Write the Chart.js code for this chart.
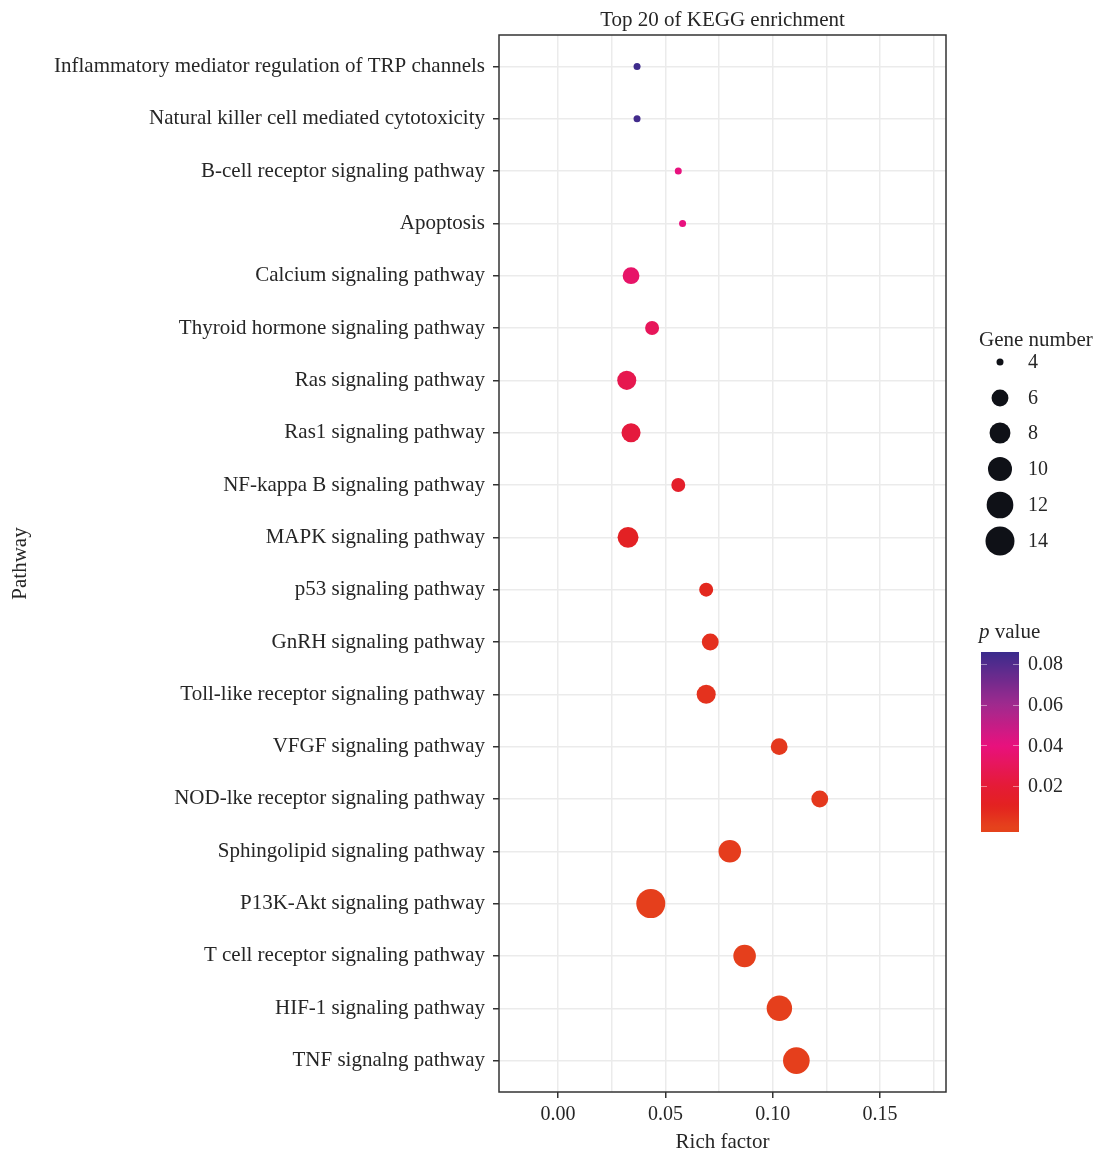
<!DOCTYPE html>
<html>
<head>
<meta charset="utf-8">
<script src="https://cdn.jsdelivr.net/npm/chart.js@4.4.0/dist/chart.umd.min.js"></script>
<style>
html,body{margin:0;padding:0;background:#fff;}
#c{display:block;}
</style>
</head>
<body>
<canvas id="c" width="1101" height="1151"></canvas>
<script>
// ---------------- DATA ----------------
const pathways = [
  "Inflammatory mediator regulation of TRP channels",
  "Natural killer cell mediated cytotoxicity",
  "B-cell receptor signaling pathway",
  "Apoptosis",
  "Calcium signaling pathway",
  "Thyroid hormone signaling pathway",
  "Ras signaling pathway",
  "Ras1 signaling pathway",
  "NF-kappa B signaling pathway",
  "MAPK signaling pathway",
  "p53 signaling pathway",
  "GnRH signaling pathway",
  "Toll-like receptor signaling pathway",
  "VFGF signaling pathway",
  "NOD-lke receptor signaling pathway",
  "Sphingolipid signaling pathway",
  "P13K-Akt signaling pathway",
  "T cell receptor signaling pathway",
  "HIF-1 signaling pathway",
  "TNF signalng pathway"
];
const richFactor = [0.0368, 0.0368, 0.0560, 0.0580, 0.0340, 0.0438, 0.0320, 0.0340, 0.0560, 0.0326,
                    0.0690, 0.0709, 0.0690, 0.1030, 0.1219, 0.0800, 0.0432, 0.0869, 0.1031, 0.1110];
const geneNumber = [4, 4, 4, 4, 6, 5, 7, 7, 5, 8, 5, 6, 7, 6, 6, 9, 14, 9, 11, 12];
const pValue = [0.085, 0.084, 0.040, 0.040, 0.034, 0.030, 0.027, 0.022, 0.015, 0.012,
                0.008, 0.006, 0.005, 0.003, 0.003, 0.002, 0.001, 0.001, 0.001, 0.001];

const xGridValues = [0, 0.025, 0.05, 0.075, 0.1, 0.125, 0.15, 0.175];
const xMajorValues = [0, 0.05, 0.1, 0.15];
const xTickLabels = ["0.00", "0.05", "0.10", "0.15"];

const sizeLegendValues = [4, 6, 8, 10, 12, 14];
const colorLegendValues = [0.08, 0.06, 0.04, 0.02];
const colorLegendLabels = ["0.08", "0.06", "0.04", "0.02"];

// ---------------- STYLE HELPERS ----------------
const FONT = "'Liberation Serif', 'DejaVu Serif', serif";
const FS = 21;      // labels / titles
const FSN = 20;     // numbers
const TXT = '#262626';
const gMin = 4, gMax = 14;
function radiusOf(g) {
  const t = Math.max(0, (g - gMin) / (gMax - gMin));
  return 3.5 + 11 * Math.sqrt(t);
}
const colorStops = [
  [0.000, [229, 66, 28]],
  [0.010, [227, 34, 31]],
  [0.020, [229, 27, 54]],
  [0.040, [232, 17, 126]],
  [0.060, [160, 42, 142]],
  [0.086, [58, 43, 140]]
];
function colorOf(p) {
  if (p <= colorStops[0][0]) return 'rgb(' + colorStops[0][1].join(',') + ')';
  for (let i = 1; i < colorStops.length; i++) {
    if (p <= colorStops[i][0]) {
      const [p0, c0] = colorStops[i - 1], [p1, c1] = colorStops[i];
      const t = (p - p0) / (p1 - p0);
      const c = c0.map((v, k) => Math.round(v + (c1[k] - v) * t));
      return 'rgb(' + c.join(',') + ')';
    }
  }
  return 'rgb(' + colorStops[colorStops.length - 1][1].join(',') + ')';
}

const points = pathways.map((name, i) => ({ x: richFactor[i], y: i + 1, r: radiusOf(geneNumber[i]) }));

// ---------------- PLUGINS ----------------
const framePlugin = {
  id: 'frame',
  afterDraw(chart) {
    const { ctx, chartArea: a } = chart;
    ctx.save();
    ctx.strokeStyle = '#333';
    ctx.lineWidth = 1.5;
    ctx.strokeRect(a.left, a.top, a.right - a.left, a.bottom - a.top);
    ctx.restore();
  }
};

const legendPlugin = {
  id: 'customLegends',
  afterDraw(chart) {
    const ctx = chart.ctx;
    ctx.save();
    ctx.fillStyle = TXT;
    ctx.textBaseline = 'middle';
    ctx.textAlign = 'left';
    // size legend
    ctx.font = FS + 'px ' + FONT;
    ctx.fillText('Gene number', 979, 340);
    ctx.font = FSN + 'px ' + FONT;
    const ys = [362, 398, 433, 469, 505, 541];
    sizeLegendValues.forEach((g, i) => {
      ctx.beginPath();
      ctx.fillStyle = '#0f1117';
      ctx.arc(1000, ys[i], radiusOf(g), 0, Math.PI * 2);
      ctx.fill();
      ctx.fillStyle = TXT;
      ctx.fillText(String(g), 1028, ys[i] + 1);
    });
    // color legend
    ctx.font = 'italic ' + FS + 'px ' + FONT;
    ctx.fillText('p', 979, 632);
    const pw = ctx.measureText('p').width;
    ctx.font = FS + 'px ' + FONT;
    ctx.fillText(' value', 979 + pw, 632);
    ctx.font = FSN + 'px ' + FONT;
    const bx = 981, bw = 38, by = 652, bh = 180;
    const pTop = 0.0859, pBot = -0.0026;
    const yOf = p => by + (pTop - p) / (pTop - pBot) * bh;
    const grad = ctx.createLinearGradient(0, by, 0, by + bh);
    for (let k = 0; k <= 40; k++) {
      const p = pTop - (pTop - pBot) * k / 40;
      grad.addColorStop(k / 40, colorOf(p));
    }
    ctx.fillStyle = grad;
    ctx.fillRect(bx, by, bw, bh);
    ctx.strokeStyle = 'rgba(255,255,255,0.45)';
    ctx.lineWidth = 1;
    colorLegendValues.forEach((p, i) => {
      const y = Math.round(yOf(p)) + 0.5;
      ctx.beginPath();
      ctx.moveTo(bx, y); ctx.lineTo(bx + 6, y);
      ctx.moveTo(bx + bw - 6, y); ctx.lineTo(bx + bw, y);
      ctx.stroke();
      ctx.fillStyle = TXT;
      ctx.fillText(colorLegendLabels[i], 1028, yOf(p) + 1);
    });
    ctx.restore();
  }
};

// ---------------- CHART ----------------
Chart.defaults.font.family = FONT;
Chart.defaults.font.size = FS;
Chart.defaults.color = TXT;

new Chart(document.getElementById('c'), {
  type: 'bubble',
  data: {
    datasets: [{
      data: points,
      backgroundColor: pValue.map(colorOf),
      borderWidth: 0,
      hoverBorderWidth: 0,
      hoverRadius: 0
    }]
  },
  options: {
    responsive: false,
    animation: false,
    events: [],
    layout: { padding: { left: 0, right: 155, top: 0, bottom: 0 } },
    plugins: { legend: { display: false }, tooltip: { enabled: false }, title: { display: false } },
    scales: {
      x: {
        type: 'linear',
        position: 'bottom',
        min: -0.0275,
        max: 0.1807,
        afterBuildTicks: s => { s.ticks = xGridValues.map(v => ({ value: v })); },
        afterFit: s => { s.height = 59; },
        grid: {
          color: '#ebebeb',
          lineWidth: 1.5,
          tickLength: 6,
          tickWidth: 1.5,
          tickColor: c => (c.tick && xMajorValues.some(v => Math.abs(v - c.tick.value) < 1e-9)) ? '#333' : 'rgba(0,0,0,0)'
        },
        border: { display: false },
        ticks: {
          autoSkip: false,
          maxRotation: 0,
          padding: 5,
          color: TXT,
          font: { size: FSN },
          callback: v => {
            const i = xMajorValues.findIndex(m => Math.abs(m - v) < 1e-9);
            return i >= 0 ? xTickLabels[i] : '';
          }
        },
        title: { display: true, text: 'Rich factor', color: TXT, padding: { top: 0, bottom: -4 } }
      },
      xt: {
        type: 'linear',
        axis: 'x',
        position: 'top',
        min: 0, max: 1,
        afterFit: s => { s.height = 35; },
        grid: { display: false },
        border: { display: false },
        ticks: { display: false },
        title: { display: true, text: 'Top 20 of KEGG enrichment', color: TXT, padding: { top: 8, bottom: 6 } }
      },
      y: {
        type: 'linear',
        position: 'left',
        reverse: true,
        min: 0.4,
        max: 20.6,
        afterBuildTicks: s => { s.ticks = pathways.map((_, i) => ({ value: i + 1 })); },
        afterFit: s => { s.width = 499; },
        grid: { color: '#ebebeb', lineWidth: 1.5, tickLength: 6, tickWidth: 1.5, tickColor: '#333' },
        border: { display: false },
        ticks: {
          autoSkip: false,
          padding: 8,
          color: TXT,
          callback: v => pathways[Math.round(v) - 1]
        },
        title: { display: true, text: 'Pathway', color: TXT, padding: { top: 8, bottom: 0 } }
      }
    }
  },
  plugins: [framePlugin, legendPlugin]
});
</script>
</body>
</html>
